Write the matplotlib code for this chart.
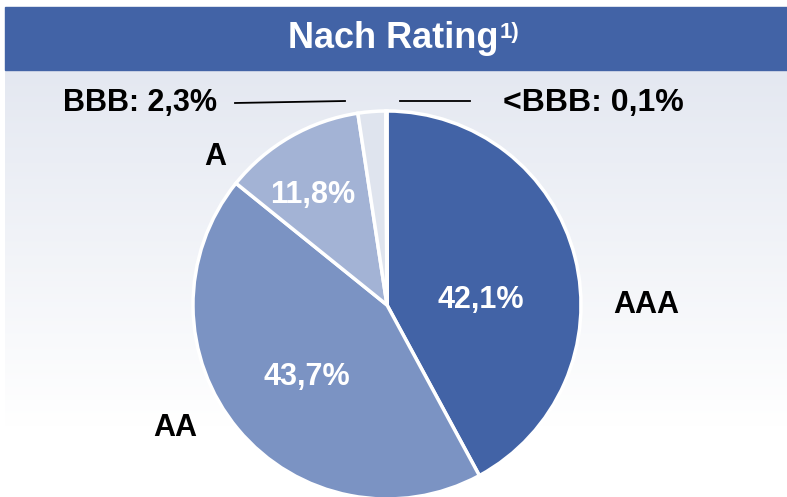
import matplotlib.pyplot as plt
import numpy as np
from matplotlib.patches import Rectangle

# data
ratings = ["AAA", "AA", "A", "BBB", "<BBB"]
shares = [42.1, 43.7, 11.8, 2.3, 0.1]
share_labels = ["42,1%", "43,7%", "11,8%", "2,3%", "0,1%"]
colors = ["#4263A6", "#7B93C3", "#A3B3D5", "#DFE4EE", "#DFE4EE"]

W, H = 787, 497
fig = plt.figure(figsize=(W / 100, H / 100), dpi=100)

font = ["Liberation Sans", "DejaVu Sans"]


def pixel_axes(z):
    a = fig.add_axes([0, 0, 1, 1])
    a.set_xlim(0, W)
    a.set_ylim(H, 0)
    a.axis("off")
    a.set_zorder(z)
    a.patch.set_alpha(0)
    return a


# background: gradient panel + title bar
bg = pixel_axes(0)
grad = np.linspace(0, 1, 256)
top = np.array([228, 232, 241]) / 255
bot = np.array([255, 255, 255]) / 255
img = top + (bot - top) * np.clip(grad * 1.15, 0, 1)[:, None]
bg.imshow(img.reshape(256, 1, 3), extent=[5, W, 480, 70], aspect="auto", zorder=0)
bg.add_patch(Rectangle((5, 7), W - 5, 63, color="#4263A6", zorder=1))

# pie
cx, cy, r = 387, 305, 194
pie_ax = fig.add_axes([(cx - r) / W, (H - cy - r) / H, 2 * r / W, 2 * r / H])
pie_ax.set_zorder(1)
pie_ax.pie(shares, colors=colors, startangle=90, counterclock=False, radius=1,
           wedgeprops=dict(edgecolor="white", linewidth=2.5))
pie_ax.set_xlim(-1, 1)
pie_ax.set_ylim(-1, 1)
pie_ax.axis("off")

# texts on top
fg = pixel_axes(2)
t = fg.text(393, 39, "Nach Rating", color="white", fontsize=26, fontweight="bold",
            family=font, ha="center", va="center")
fg.annotate("1)", xy=(1, 0.98), xycoords=t, xytext=(1, 0), textcoords="offset points",
            color="white", fontsize=16, fontweight="bold", family=font, va="top", ha="left")

lab_pos = [(481, 300), (307, 377), (313, 195)]
for (x, y), s in zip(lab_pos, share_labels[:3]):
    fg.text(x, y, s, color="white", fontsize=22, fontweight="bold", family=font,
            ha="center", va="center")

out_pos = [(646, 305), (175, 428), (215, 157)]
for (x, y), name in zip(out_pos, ratings[:3]):
    fg.text(x, y, name, color="black", fontsize=22, fontweight="bold", family=font,
            ha="center", va="center")

fg.text(63, 103, ratings[3] + ": " + share_labels[3], color="black", fontsize=22,
        fontweight="bold", family=font, ha="left", va="center")
fg.text(503, 103, ratings[4] + ": " + share_labels[4], color="black", fontsize=23,
        fontweight="bold", family=font, ha="left", va="center")
fg.plot([235, 345], [103, 101], color="black", lw=1.3)
fg.plot([400, 470], [101, 101], color="black", lw=1.3)

fig.savefig("out.png", dpi=100)
